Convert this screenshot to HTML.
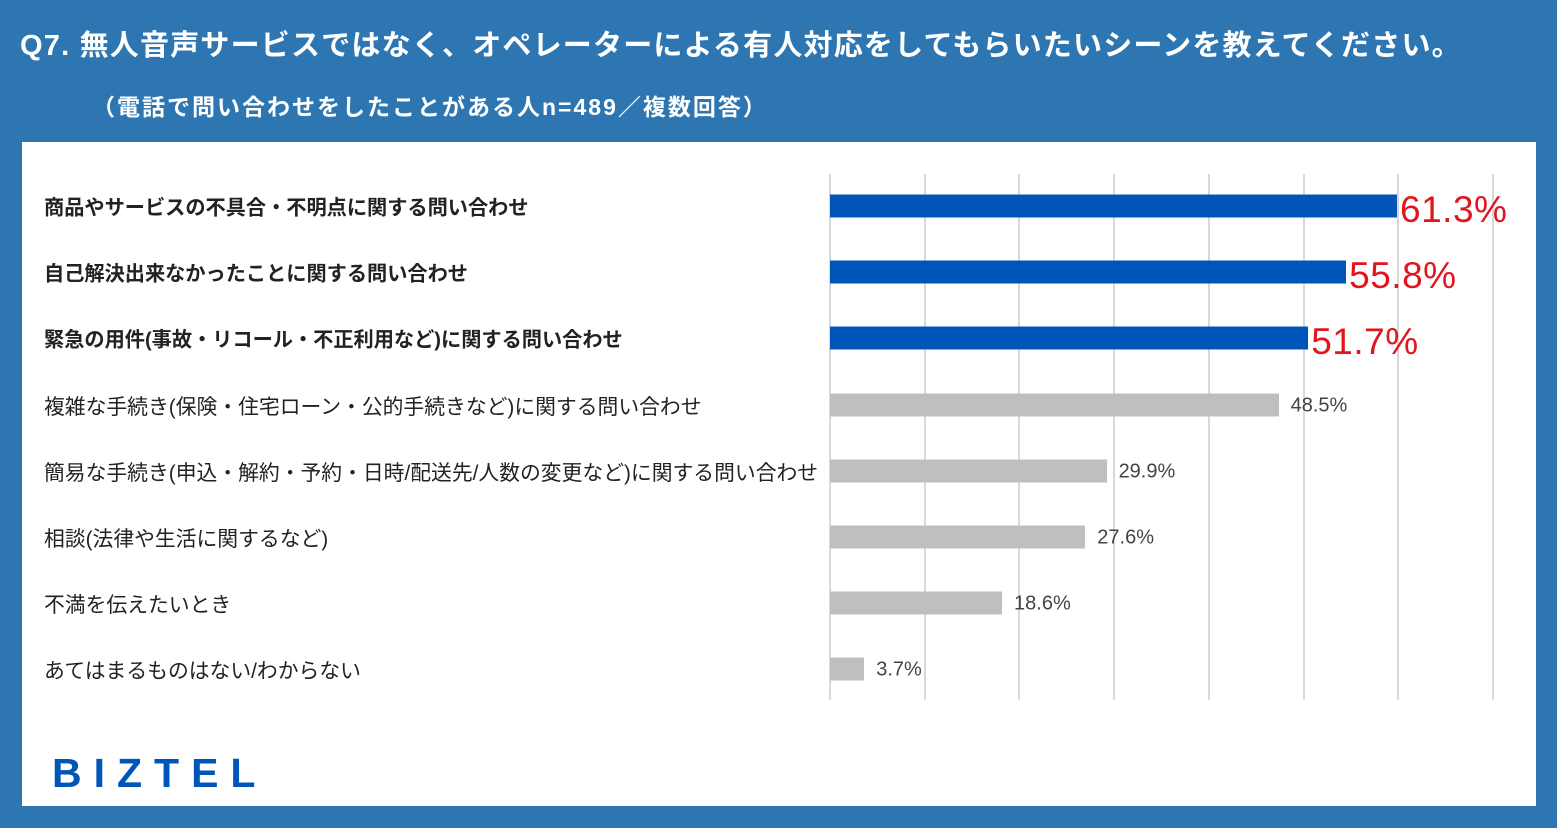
<!DOCTYPE html>
<html><head><meta charset="utf-8"><style>
body{margin:0;width:1557px;height:828px;background:#2e76b1;overflow:hidden;font-family:"Liberation Sans","Noto Sans CJK JP",sans-serif;position:relative}
.t{position:absolute;color:#fff;white-space:nowrap}
#panel{position:absolute;left:22px;top:142px;width:1514px;height:664px;background:#fff}
.lbl{position:absolute;left:44px;font-size:20.8px;color:#222;white-space:nowrap;transform:translateY(-50%)}
.b{font-weight:bold;font-size:20.2px}
.bar{position:absolute;height:23px;transform:translateY(-50%)}
.val{position:absolute;white-space:nowrap;transform:translateY(-50%)}
.grid{position:absolute;top:174px;height:526px;width:2px;background:#d9d9d9}
</style></head><body>
<div class="t" style="left:20px;top:22px;font-size:29px;font-weight:bold;letter-spacing:1.2px">Q7. 無人音声サービスではなく、オペレーターによる有人対応をしてもらいたいシーンを教えてください。</div>
<div class="t" style="left:92px;top:88px;font-size:23px;font-weight:bold;letter-spacing:2px">（電話で問い合わせをしたことがある人n=489／複数回答）</div>
<div id="panel"></div>
<div id="chart"></div>
<div class="t" style="left:52px;top:750px;font-size:41px;font-weight:bold;color:#0055b8;letter-spacing:12px">BIZTEL</div>
<script>
const categories=["商品やサービスの不具合・不明点に関する問い合わせ","自己解決出来なかったことに関する問い合わせ","緊急の用件(事故・リコール・不正利用など)に関する問い合わせ","複雑な手続き(保険・住宅ローン・公的手続きなど)に関する問い合わせ","簡易な手続き(申込・解約・予約・日時/配送先/人数の変更など)に関する問い合わせ","相談(法律や生活に関するなど)","不満を伝えたいとき","あてはまるものはない/わからない"];
const values=[61.3,55.8,51.7,48.5,29.9,27.6,18.6,3.7];
const highlighted=[true,true,true,false,false,false,false,false];
const gridCount=8;
const x0=830,pxPer=9.25,y0=206,step=66.2,gridStep=94.7;
const xs=v=>x0+v*pxPer, ys=i=>y0+i*step;
const c=document.getElementById('chart');
for(let g=0;g<gridCount;g++){const d=document.createElement('div');d.className='grid';d.style.left=(x0-1+g*gridStep)+'px';


c.appendChild(d);}
categories.forEach((cat,i)=>{
const y=ys(i);
const l=document.createElement('div');l.className='lbl'+(highlighted[i]?' b':'');l.style.top=y+'px';l.textContent=cat;


c.appendChild(l);
const b=document.createElement('div');b.className='bar';b.style.left=x0+'px';b.style.top=y+'px';b.style.width=(xs(values[i])-x0)+'px';b.style.background=highlighted[i]?'#0055b8':'#bfbfbf';


c.appendChild(b);
const v=document.createElement('div');v.className='val';v.textContent=values[i].toFixed(1)+'%';
if(highlighted[i]){v.style.left=(xs(values[i])+3)+'px';v.style.top=(y+4)+'px';v.style.fontSize='37px';v.style.color='#e0161e';v.style.letterSpacing='0.5px';}
else{v.style.left=(xs(values[i])+12)+'px';v.style.top=(y+1)+'px';v.style.fontSize='20px';v.style.color='#444';}


c.appendChild(v);
});
</script>
</body></html>
